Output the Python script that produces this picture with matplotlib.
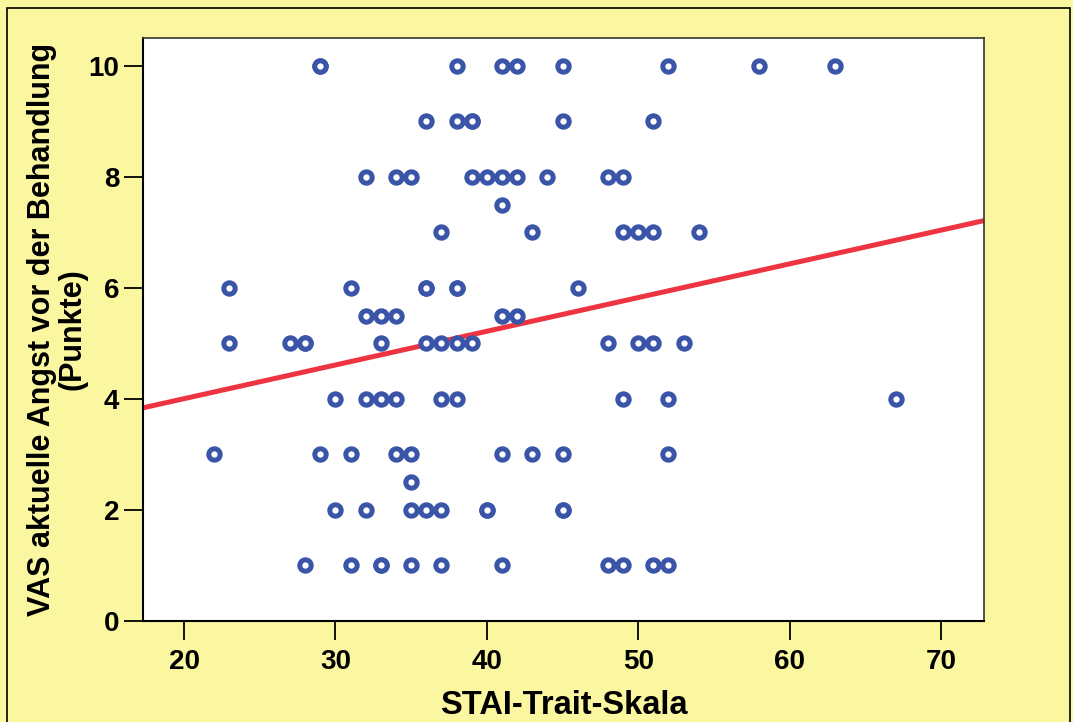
import numpy as np
import matplotlib.pyplot as plt
from matplotlib.patches import Rectangle

# STAI-Trait score and VAS anxiety
stai = [29, 29, 38, 41, 42, 45, 52, 58, 63,
        36, 38, 39, 39, 45, 51,
        32, 34, 35, 39, 40, 41, 42, 44, 48, 49,
        41,
        37, 43, 49, 50, 51, 54,
        23, 31, 36, 36, 38, 38, 46,
        32, 33, 34, 41, 42,
        23, 27, 28, 28, 33, 36, 37, 38, 39, 48, 50, 51, 53,
        30, 32, 33, 34, 37, 38, 49, 52, 67,
        22, 29, 31, 34, 35, 41, 43, 45, 52,
        35,
        30, 32, 35, 36, 37, 40, 40, 45, 45,
        28, 31, 33, 33, 35, 37, 41, 48, 49, 51, 52]
vas = [10] * 9 + [9] * 6 + [8] * 10 + [7.5] + [7] * 6 + [6] * 7 + [5.5] * 5 \
    + [5] * 13 + [4] * 9 + [3] * 9 + [2.5] + [2] * 9 + [1] * 11

# regression line
fit_intercept = 2.79
fit_slope = 0.0607

x_ticks = [20, 30, 40, 50, 60, 70]
y_ticks = [0, 2, 4, 6, 8, 10]

BG = '#FAF7A0'
BLUE = '#3A55A8'
RED = '#EE3440'

plt.rcParams['font.family'] = ['Liberation Sans', 'DejaVu Sans']
plt.rcParams['font.weight'] = 'bold'

fig = plt.figure(figsize=(10.73, 7.22), dpi=100, facecolor=BG)
ax = fig.add_axes([143 / 1073, 1 - 621 / 722, (984 - 143) / 1073, (621 - 38) / 722])
ax.set_facecolor('white')

xlim = (17.29, 72.84)
ax.set_xlim(*xlim)
ax.set_ylim(0, 10.5)

xs = np.array(xlim)
ax.plot(xs, fit_intercept + fit_slope * xs, color=RED, lw=3.6, zorder=2,
        solid_capstyle='butt')
ax.plot(stai, vas, 'o', ms=8.2, mfc='white', mec=BLUE, mew=3.6,
        linestyle='none', zorder=3)

ax.set_xticks(x_ticks)
ax.set_yticks(y_ticks)
ax.tick_params(axis='both', direction='out', length=14, width=1.3,
               labelsize=20, color='black')
ax.tick_params(axis='y', pad=3)
ax.tick_params(axis='x', pad=6)
for lab in ax.get_xticklabels() + ax.get_yticklabels():
    lab.set_fontweight('bold')

for side in ['left', 'bottom']:
    ax.spines[side].set_linewidth(1.5)
for side in ['top', 'right']:
    ax.spines[side].set_linewidth(1.2)
    ax.spines[side].set_color('#333333')

ax.set_xlabel('STAI-Trait-Skala', fontsize=23.5, fontweight='bold', labelpad=11)
ax.set_ylabel('VAS aktuelle Angst vor der Behandlung\n(Punkte)', fontsize=22,
              fontweight='bold', labelpad=1, linespacing=1.0)

fig.patches.append(Rectangle((7 / 1073, -0.05), (1070 - 7) / 1073, 1.05 - 8 / 722,
                             transform=fig.transFigure, fill=False,
                             edgecolor='black', lw=1.2))

fig.savefig('out.png', dpi=100, facecolor=BG)
